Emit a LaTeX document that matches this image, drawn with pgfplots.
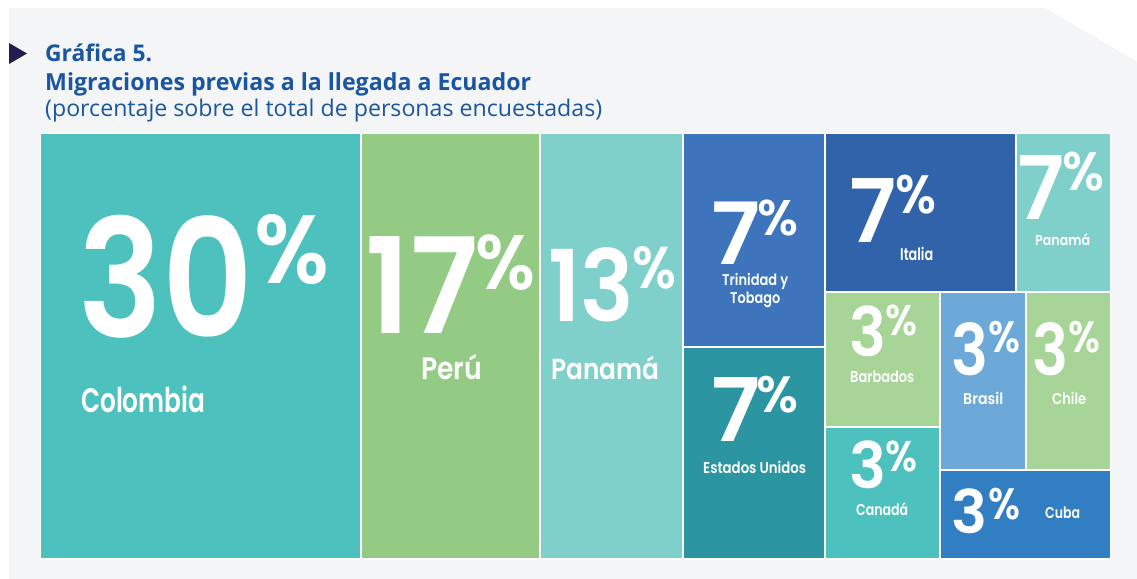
\documentclass[border=0pt]{standalone}
\usepackage{pgfplots}
\pgfplotsset{compat=1.18}
\usepackage{graphicx}
\usepackage{fontspec}
\setmainfont{Open Sans}
\newfontfamily\numf{Poppins SemiBold}
\newfontfamily\labf{Poppins SemiBold}
\definecolor{bgpanel}{HTML}{F4F5F7}
\definecolor{ttl}{HTML}{1A56A0}
\definecolor{tri}{HTML}{241D4F}
\definecolor{cTeal}{HTML}{4DC1BE}
\definecolor{cGreen}{HTML}{93CB84}
\definecolor{cLTeal}{HTML}{7FCFCA}
\definecolor{cBlue}{HTML}{3E74BB}
\definecolor{cDTeal}{HTML}{2B95A2}
\definecolor{cDBlue}{HTML}{3063AA}
\definecolor{cLGreen}{HTML}{A7D497}
\definecolor{cLBlue}{HTML}{6CA8D8}
\definecolor{cMBlue}{HTML}{317FC2}
% cell: x1 y1 x2 y2 colour
\newcommand\cell[5]{\addplot[fill=#5,draw=none] coordinates {(#1,#2) (#3,#2) (#3,#4) (#1,#4)} -- cycle;}
% text: x baseline width size font text colour
\newcommand\tx[7]{\node[anchor=base west,inner sep=0pt,text=#7] at (axis cs:#1,#2) {\resizebox{#3bp}{\height}{\fontsize{#4bp}{#4bp}#5\selectfont #6}};}
\begin{document}
\begin{tikzpicture}
\begin{axis}[width=1137bp,height=579bp,scale only axis,
  xmin=0,xmax=1137,ymin=0,ymax=579,y dir=reverse,
  hide axis,clip=false]
% background
\addplot[fill=white,draw=none] coordinates {(0,0) (1137,0) (1137,579) (0,579)} -- cycle;
\addplot[fill=bgpanel,draw=none] coordinates {(9,8) (1045,8) (1137,62) (1137,579) (9,579)} -- cycle;
\addplot[fill=tri,draw=none] coordinates {(9,43) (27,53.5) (9,64)} -- cycle;
% treemap
\addplot[fill=white,draw=none] coordinates {(39.5,132.5) (1111,132.5) (1111,559.5) (39.5,559.5)} -- cycle;
\cell{41}{134}{360}{558}{cTeal}      % Colombia 30
\cell{362}{134}{539}{558}{cGreen}    % Peru 17
\cell{541}{134}{682}{558}{cLTeal}    % Panama 13
\cell{684}{134}{824}{346}{cBlue}     % Trinidad y Tobago 7
\cell{684}{348}{824}{558}{cDTeal}    % Estados Unidos 7
\cell{826}{134}{1015}{291}{cDBlue}   % Italia 7
\cell{1017}{134}{1110}{291}{cLTeal}  % Panama 7
\cell{826}{293}{939}{426}{cLGreen}   % Barbados 3
\cell{826}{428}{939}{558}{cTeal}     % Canada 3
\cell{941}{293}{1025}{469}{cLBlue}   % Brasil 3
\cell{1027}{293}{1110}{469}{cLGreen} % Chile 3
\cell{941}{471}{1110}{558}{cMBlue}   % Cuba 3
% title
\tx{45}{62}{107}{23}{\bfseries}{Gráfica 5.}{ttl}
\tx{45}{91}{486}{23.5}{\bfseries}{Migraciones previas a la llegada a Ecuador}{ttl}
\tx{45}{116}{557}{23}{}{(porcentaje sobre el total de personas encuestadas)}{ttl}
% Colombia
\tx{78}{337}{175}{164}{\numf}{30}{white}
\tx{254}{283}{75}{97}{\numf}{\%}{white}
\tx{81}{412}{124}{34}{\labf}{Colombia}{white}
% Peru
\tx{365}{333}{113}{133}{\numf}{17}{white}
\tx{475}{289}{60}{77}{\numf}{\%}{white}
\tx{421}{379}{61}{31}{\labf}{Perú}{white}
% Panama
\tx{548}{321}{86}{99}{\numf}{13}{white}
\tx{632}{288}{44}{59}{\numf}{\%}{white}
\tx{551}{379}{108}{29}{\labf}{Panamá}{white}
% Trinidad y Tobago
\tx{711}{264}{49}{86}{\numf}{7}{white}
\tx{757}{235}{41}{50}{\numf}{\%}{white}
\tx{722}{285}{66}{15.5}{\labf}{Trinidad y}{white}
\tx{730}{303}{50}{15.5}{\labf}{Tobago}{white}
% Estados Unidos
\tx{711}{441}{49}{88}{\numf}{7}{white}
\tx{756}{412}{42}{51}{\numf}{\%}{white}
\tx{703}{473}{103}{15.7}{\labf}{Estados Unidos}{white}
% Italia
\tx{849}{242}{47}{88}{\numf}{7}{white}
\tx{895}{213}{41}{54}{\numf}{\%}{white}
\tx{900}{260}{33}{17}{\labf}{Italia}{white}
% Panama small
\tx{1017}{219}{47}{88}{\numf}{7}{white}
\tx{1062}{190}{42}{54}{\numf}{\%}{white}
\tx{1035}{245}{55}{14.5}{\labf}{Panamá}{white}
% Barbados
\tx{849}{356}{37}{68}{\numf}{3}{white}
\tx{885}{335}{32}{43}{\numf}{\%}{white}
\tx{850}{382}{64}{15.7}{\labf}{Barbados}{white}
% Canada
\tx{849}{488}{37}{64}{\numf}{3}{white}
\tx{885}{471}{32}{43}{\numf}{\%}{white}
\tx{856}{515}{52}{15.7}{\labf}{Canadá}{white}
% Brasil
\tx{951}{375}{37}{71}{\numf}{3}{white}
\tx{988}{352}{32}{44}{\numf}{\%}{white}
\tx{963}{404}{40}{15.7}{\labf}{Brasil}{white}
% Chile
\tx{1032}{375}{36}{71}{\numf}{3}{white}
\tx{1068}{352}{32}{44}{\numf}{\%}{white}
\tx{1052}{404}{34}{15.7}{\labf}{Chile}{white}
% Cuba
\tx{951}{533}{36}{60}{\numf}{3}{white}
\tx{988}{519}{32}{44}{\numf}{\%}{white}
\tx{1045}{518}{35}{15.7}{\labf}{Cuba}{white}
\end{axis}
\end{tikzpicture}
\end{document}
